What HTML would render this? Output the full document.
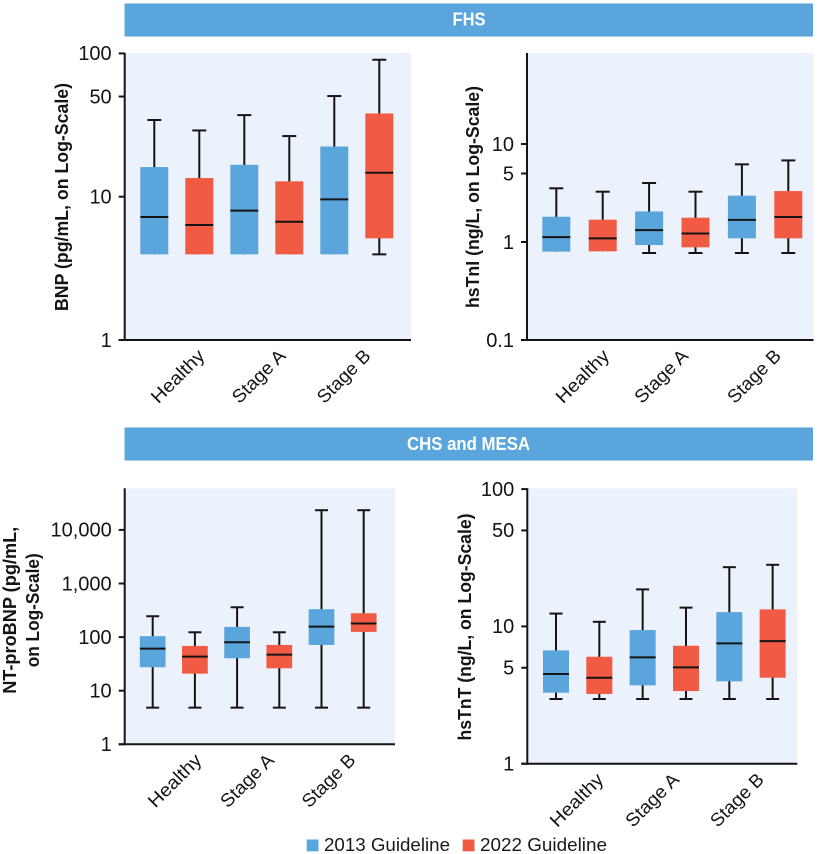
<!DOCTYPE html>
<html lang="en">
<head>
<meta charset="utf-8">
<title>Biomarker distributions by guideline</title>
<style>
html,body{margin:0;padding:0;background:#fff;}
svg{display:block;font-family:"Liberation Sans",sans-serif;}
</style>
</head>
<body>
<svg id="figure" xmlns="http://www.w3.org/2000/svg" width="818" height="854" viewBox="0 0 818 854">
  <rect x="124.5" y="3.5" width="688.5" height="33" fill="#5aa5dc"/>
  <text x="469" y="25.5" text-anchor="middle" font-size="18" font-weight="bold" fill="#fff" textLength="33" lengthAdjust="spacingAndGlyphs">FHS</text>
  <rect x="124.5" y="427.5" width="688.5" height="33" fill="#5aa5dc"/>
  <text x="468.5" y="450" text-anchor="middle" font-size="18" font-weight="bold" fill="#fff" textLength="123" lengthAdjust="spacingAndGlyphs">CHS and MESA</text>
  <rect x="306.7" y="839.5" width="11.8" height="11.8" fill="#5aa5dc"/>
  <text x="324" y="851" font-size="18.5" fill="#1a1a1a" textLength="126" lengthAdjust="spacingAndGlyphs">2013 Guideline</text>
  <rect x="462.7" y="839.5" width="11.8" height="11.8" fill="#f15b43"/>
  <text x="480" y="851" font-size="18.5" fill="#1a1a1a" textLength="127" lengthAdjust="spacingAndGlyphs">2022 Guideline</text>
</svg>
<script>
// Shared categories and series (each stat array alternates 2013, 2022 per category)
const categories = ['Healthy', 'Stage A', 'Stage B'];
const seriesNames = ['2013', '2022'];

// BNP (FHS)
const bnpTicks = [1, 10, 50, 100];
const bnpTickLabels = ['1', '10', '50', '100'];
const bnpHigh = [34.3, 29.0, 37.1, 26.5, 50.4, 90.3];
const bnpQ3 = [16.1, 13.5, 16.7, 12.8, 22.4, 38.1];
const bnpMedian = [7.21, 6.34, 7.99, 6.69, 9.58, 14.7];
const bnpQ1 = [3.96, 3.96, 3.96, 3.96, 3.96, 5.12];
const bnpLow = [3.96, 3.96, 3.96, 3.96, 3.96, 3.96];

// hsTnI (FHS)
const tniTicks = [0.1, 1, 5, 10];
const tniTickLabels = ['0.1', '1', '5', '10'];
const tniHigh = [3.53, 3.26, 4.0, 3.26, 6.2, 6.8];
const tniQ3 = [1.81, 1.69, 2.05, 1.77, 2.97, 3.31];
const tniMedian = [1.12, 1.09, 1.32, 1.22, 1.68, 1.80];
const tniQ1 = [0.797, 0.803, 0.931, 0.883, 1.09, 1.09];
const tniLow = [0.797, 0.803, 0.772, 0.772, 0.772, 0.772];

// NT-proBNP (CHS and MESA)
const ntproTicks = [1, 10, 100, 1000, 10000];
const ntproTickLabels = ['1', '10', '100', '1,000', '10,000'];
const ntproHigh = [245, 123, 360, 123, 23300, 23300];
const ntproQ3 = [104, 68.4, 155, 71.4, 331, 279];
const ntproMedian = [61, 43.3, 80, 47.1, 157, 179];
const ntproQ1 = [27.4, 20.8, 40.3, 26.2, 71.4, 125];
const ntproLow = [4.83, 4.83, 4.83, 4.83, 4.83, 4.83];

// hsTnT (CHS and MESA)
const tntTicks = [1, 5, 10, 50, 100];
const tntTickLabels = ['1', '5', '10', '50', '100'];
const tntHigh = [12.4, 10.8, 18.6, 13.7, 27, 28.1];
const tntQ3 = [6.69, 6.01, 9.4, 7.23, 12.7, 13.3];
const tntMedian = [4.5, 4.23, 5.95, 5.03, 7.52, 7.82];
const tntQ1 = [3.29, 3.22, 3.72, 3.38, 3.98, 4.23];
const tntLow = [2.96, 2.96, 2.96, 2.96, 2.96, 2.96];

const svg = document.getElementById('figure');
const NS = 'http://www.w3.org/2000/svg';
const BLUE = '#5aa5dc', RED = '#f15b43', INK = '#141414', PLOT_BG = '#ebf2fb';

function make(tag, attrs, parent) {
  const el = document.createElementNS(NS, tag);
  for (const k in attrs) el.setAttribute(k, attrs[k]);
  parent.appendChild(el);
  return el;
}

function drawPanel(p) {
  const yScale = v => p.yBase - p.pxPerDecade * Math.log10(v / p.vMin);
  const xScale = i => p.x0 + p.step * i;

  const g = make('g', {}, svg);
  
  

  const bg = make('rect', {x: p.axisX, y: p.top, width: p.right - p.axisX, height: p.yBase - p.top, fill: PLOT_BG}, g);
  
  

  // Boxes
  p.q3.forEach((_, i) => {
    const cx = xScale(i);
    const seriesIdx = i % 2;
    const cat = categories[Math.floor(i / 2)].toLowerCase().replace(' ', '-');
    const box = make('g', {}, g);
    
    

    const yHi = yScale(p.high[i]), yLo = yScale(p.low[i]);
    const yQ3 = yScale(p.q3[i]), yQ1 = yScale(p.q1[i]), yMed = yScale(p.median[i]);
    const line = {stroke: INK, 'stroke-width': 2};
    make('line', Object.assign({x1: cx, x2: cx, y1: yHi, y2: yLo}, line), box);
    make('line', Object.assign({x1: cx - p.capW / 2, x2: cx + p.capW / 2, y1: yHi, y2: yHi}, line), box);
    if (p.low[i] < p.q1[i] - 1e-9 && yLo - yQ1 > 1.5) {
      make('line', Object.assign({x1: cx - p.capW / 2, x2: cx + p.capW / 2, y1: yLo, y2: yLo}, line), box);
    }
    make('rect', {x: cx - p.boxW / 2, y: yQ3, width: p.boxW, height: yQ1 - yQ3, fill: seriesIdx ? RED : BLUE}, box);
    make('line', Object.assign({x1: cx - p.boxW / 2, x2: cx + p.boxW / 2, y1: yMed, y2: yMed}, line), box);
  });

  // Axes
  const yAxis = make('line', {x1: p.axisX, x2: p.axisX, y1: p.top, y2: p.yBase + 1, stroke: INK, 'stroke-width': 2}, g);
  
  
  const xAxis = make('line', {x1: p.axisX - 6, x2: p.right, y1: p.yBase, y2: p.yBase, stroke: INK, 'stroke-width': 2}, g);
  
  

  // Y ticks
  p.ticks.forEach((t, i) => {
    const y = yScale(t);
    const tick = make('line', {x1: p.axisX - 6, x2: p.axisX, y1: y, y2: y, stroke: INK, 'stroke-width': 2}, g);
    
    
    const lab = make('text', {x: p.axisX - 13, y: y + 6.8, 'text-anchor': 'end', 'font-size': 20, fill: INK}, g);
    
    
    lab.textContent = p.tickLabels[i];
  });

  // Category labels
  categories.forEach((c, i) => {
    const ex = xScale(i * 2) + p.step / 2 + p.labelDx[i];
    const ey = p.yBase + p.labelDy;
    const lab = make('text', {
      x: ex, y: ey, 'text-anchor': 'end', 'font-size': 18.5, fill: INK,
      textLength: 67, lengthAdjust: 'spacingAndGlyphs',
      transform: 'rotate(-45 ' + ex + ' ' + ey + ')'
    }, g);
    
    
    lab.textContent = c;
  });

  // Y title lines
  p.titleLines.forEach(t => {
    const lab = make('text', {
      x: t.x, y: t.y, 'text-anchor': 'middle', 'font-size': 18, 'font-weight': 'bold', fill: INK,
      textLength: t.len, lengthAdjust: 'spacingAndGlyphs',
      transform: 'rotate(-90 ' + t.x + ' ' + t.y + ')'
    }, g);
    
    
    lab.textContent = t.text;
  });
}

drawPanel({
  id: 'bnp', axisX: 124.7, right: 411, top: 53, yBase: 340, vMin: 1, pxPerDecade: 143.3,
  x0: 154.3, step: 45, boxW: 28, capW: 14, labelDx: [29, 20, 15], labelDy: 17,
  ticks: bnpTicks, tickLabels: bnpTickLabels,
  high: bnpHigh, q3: bnpQ3, median: bnpMedian, q1: bnpQ1, low: bnpLow,
  titleLines: [{text: 'BNP (pg/mL, on Log-Scale)', x: 68, y: 197, len: 228}]
});
drawPanel({
  id: 'hstni', axisX: 527, right: 813.5, top: 53, yBase: 340, vMin: 0.1, pxPerDecade: 98,
  x0: 556.3, step: 46.4, boxW: 28, capW: 14, labelDx: [31, 17, 17], labelDy: 17,
  ticks: tniTicks, tickLabels: tniTickLabels,
  high: tniHigh, q3: tniQ3, median: tniMedian, q1: tniQ1, low: tniLow,
  titleLines: [{text: 'hsTnI (ng/L, on Log-Scale)', x: 479, y: 197, len: 222}]
});
drawPanel({
  id: 'ntprobnp', axisX: 124.7, right: 395, top: 488.3, yBase: 744.3, vMin: 1, pxPerDecade: 53.6,
  x0: 152.7, step: 42.2, boxW: 25.7, capW: 13, labelDx: [29, 17, 14], labelDy: 17,
  ticks: ntproTicks, tickLabels: ntproTickLabels,
  high: ntproHigh, q3: ntproQ3, median: ntproMedian, q1: ntproQ1, low: ntproLow,
  titleLines: [
    {text: 'NT-proBNP (pg/mL,', x: 16, y: 610.3, len: 167},
    {text: 'on Log-Scale)', x: 39, y: 610.3, len: 114}
  ]
});
drawPanel({
  id: 'hstnt', axisX: 527.3, right: 797.3, top: 488.3, yBase: 763.7, vMin: 1, pxPerDecade: 137.3,
  x0: 556, step: 43.33, boxW: 26, capW: 13, labelDx: [27, 16, 14], labelDy: 17,
  ticks: tntTicks, tickLabels: tntTickLabels,
  high: tntHigh, q3: tntQ3, median: tntMedian, q1: tntQ1, low: tntLow,
  titleLines: [{text: 'hsTnT (ng/L, on Log-Scale)', x: 471, y: 627, len: 227}]
});
</script>
</body>
</html>
